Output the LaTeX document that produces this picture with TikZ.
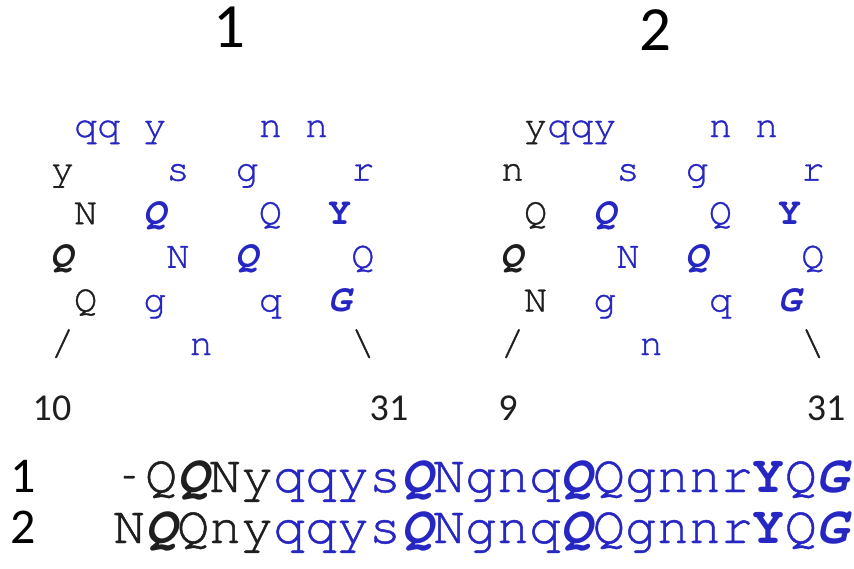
\documentclass[tikz,border=0pt]{standalone}
\usepackage{fontspec}
\usepackage{graphicx}
\newfontfamily\monof{texgyrecursor}[Extension=.otf, UprightFont=*-regular, BoldFont=*-bold, ItalicFont=*-italic, BoldItalicFont=*-bolditalic, UprightFeatures={FakeBold=0.9}]
\newfontfamily\numf{Carlito}
\definecolor{seqblue}{RGB}{38,38,195}
\definecolor{seqblack}{RGB}{30,30,30}
\newcommand\gch[6]{\node[#5] (#1) at ({#2+62.5+23.1*#3},{137+43.6*#4}) {#6};}
\newcommand\bix[1]{{\bfseries\itshape #1}}
\newcommand\bdx[1]{{\bfseries #1}}
\newcommand\shorthy{\makebox[0.6em]{\scalebox{0.45}[1]{-}}}
\begin{document}
\begin{tikzpicture}[x=1pt,y=-1pt,
  gl/.style={inner sep=0pt, anchor=base, font=\monof\fontsize{38.5}{40}\selectfont},
  bl/.style={gl,text=seqblue},
  bk/.style={gl,text=seqblack},
  bi/.style={font=\monof\fontsize{38.5}{40}\selectfont\bfseries\itshape},
  bd/.style={font=\monof\fontsize{38.5}{40}\selectfont\bfseries},
  num/.style={inner sep=0pt, anchor=base, text=seqblack, font=\numf\fontsize{38}{40}\selectfont},
  title/.style={inner sep=0pt, anchor=base, text=black, font=\numf\fontsize{63}{66}\selectfont},
  lab/.style={inner sep=0pt, anchor=base, text=black, font=\numf\fontsize{50}{52}\selectfont},
  seq/.style={inner sep=0pt, anchor=base west, text=seqblue, font=\monof\fontsize{53.3}{56}\selectfont}
]
\fill[white] (0,0) rectangle (854,568);
\useasboundingbox (0,0) rectangle (854,568);

% titles
\node[title] (t1) at (229,47) {1};
\node[title] (t2) at (655,50) {2};

% panel 1
\gch{a11}{0}{1}{0}{bl}{q}
\gch{a12}{0}{2}{0}{bl}{q}
\gch{a14}{0}{4}{0}{bl}{y}
\gch{a19}{0}{9}{0}{bl}{n}
\gch{a111}{0}{11}{0}{bl}{n}
\gch{a20}{0}{0}{1}{bk}{y}
\gch{a25}{0}{5}{1}{bl}{s}
\gch{a28}{0}{8}{1}{bl}{g}
\gch{a213}{0}{13}{1}{bl}{r}
\gch{a31}{0}{1}{2}{bk}{N}
\gch{a34}{0}{4}{2}{bl,bi}{Q}
\gch{a39}{0}{9}{2}{bl}{Q}
\gch{a312}{0}{12}{2}{bl,bd}{Y}
\gch{a40}{0}{0}{3}{bk,bi}{Q}
\gch{a45}{0}{5}{3}{bl}{N}
\gch{a48}{0}{8}{3}{bl,bi}{Q}
\gch{a413}{0}{13}{3}{bl}{Q}
\gch{a51}{0}{1}{4}{bk}{Q}
\gch{a54}{0}{4}{4}{bl}{g}
\gch{a59}{0}{9}{4}{bl}{q}
\gch{a512}{0}{12}{4}{bl,bi}{G}
\gch{a60}{0}{0}{5}{bk}{/}
\gch{a66}{0}{6}{5}{bl}{n}
\gch{a613}{0}{13}{5}{bk}{\textbackslash}

% panel 2
\gch{b11}{450}{1}{0}{bk}{y}
\gch{b12}{450}{2}{0}{bl}{q}
\gch{b13}{450}{3}{0}{bl}{q}
\gch{b14}{450}{4}{0}{bl}{y}
\gch{b19}{450}{9}{0}{bl}{n}
\gch{b111}{450}{11}{0}{bl}{n}
\gch{b20}{450}{0}{1}{bk}{n}
\gch{b25}{450}{5}{1}{bl}{s}
\gch{b28}{450}{8}{1}{bl}{g}
\gch{b213}{450}{13}{1}{bl}{r}
\gch{b31}{450}{1}{2}{bk}{Q}
\gch{b34}{450}{4}{2}{bl,bi}{Q}
\gch{b39}{450}{9}{2}{bl}{Q}
\gch{b312}{450}{12}{2}{bl,bd}{Y}
\gch{b40}{450}{0}{3}{bk,bi}{Q}
\gch{b45}{450}{5}{3}{bl}{N}
\gch{b48}{450}{8}{3}{bl,bi}{Q}
\gch{b413}{450}{13}{3}{bl}{Q}
\gch{b51}{450}{1}{4}{bk}{N}
\gch{b54}{450}{4}{4}{bl}{g}
\gch{b59}{450}{9}{4}{bl}{q}
\gch{b512}{450}{12}{4}{bl,bi}{G}
\gch{b60}{450}{0}{5}{bk}{/}
\gch{b66}{450}{6}{5}{bl}{n}
\gch{b613}{450}{13}{5}{bk}{\textbackslash}

% residue numbers
\node[num] (n10) at (52,420) {10};
\node[num] (n31a) at (389,420) {31};
\node[num] (n9) at (508,420) {9};
\node[num] (n31b) at (826,420) {31};

% sequence labels
\node[lab] (l1) at (23,492) {1};
\node[lab] (l2) at (23,543) {2};

% sequences
\node[seq] (s1) at (113,492) {\textcolor{seqblack}{\shorthy Q\bix{Q}Ny}qqys\bix{Q}Ngnq\bix{Q}Qgnnr\bdx{Y}Q\bix{G}};
\node[seq] (s2) at (113,543) {\textcolor{seqblack}{N\bix{Q}Qny}qqys\bix{Q}Ngnq\bix{Q}Qgnnr\bdx{Y}Q\bix{G}};
\end{tikzpicture}
\end{document}
